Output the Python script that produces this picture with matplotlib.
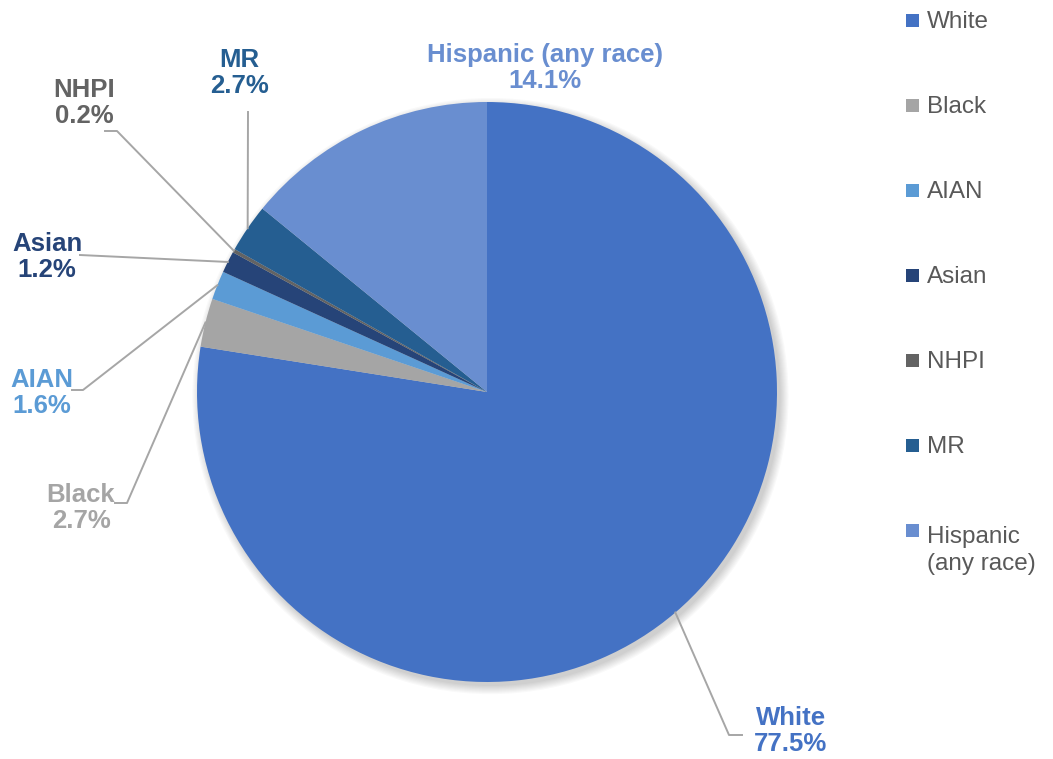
import matplotlib
matplotlib.use("Agg")
import matplotlib.pyplot as plt
from matplotlib.patches import Circle, Rectangle
import numpy as np

categories = ["White", "Black", "AIAN", "Asian", "NHPI", "MR", "Hispanic (any race)"]
values = [77.5, 2.7, 1.6, 1.2, 0.2, 2.7, 14.1]
colors = ["#4472C4", "#A5A5A5", "#5B9BD5", "#264478", "#636363", "#255E91", "#698ED0"]
legend_labels = ["White", "Black", "AIAN", "Asian", "NHPI", "MR", "Hispanic\n(any race)"]
label_texts = ["White", "Black", "AIAN", "Asian", "NHPI", "MR", "Hispanic (any race)"]

plt.rcParams['font.family'] = ['Liberation Sans', 'DejaVu Sans']

W, H = 1053, 759
fig = plt.figure(figsize=(W / 100, H / 100), dpi=100)
cx, cy, R = 487, 392, 290
ax = fig.add_axes([(cx - R) / W, (H - cy - R) / H, 2 * R / W, 2 * R / H])
ax.set_xlim(-1, 1)
ax.set_ylim(-1, 1)
ax.axis("off")

def px(x, y):
    return ((x - cx) / R, (cy - y) / R)

# soft shadow
for k in range(8):
    ax.add_patch(Circle((0.012, -0.014), 1.0 + 0.004 * k, color="black",
                        alpha=0.025, lw=0, zorder=0, clip_on=False))

wedges, _ = ax.pie(values, colors=colors, startangle=90, counterclock=False,
                   radius=1, wedgeprops=dict(linewidth=0), frame=False)
ax.set_xlim(-1, 1)
ax.set_ylim(-1, 1)

# label layout (pixel positions) : text center, leader path after edge point
label_pos = {
    "White": (791, 731),
    "Black": (81, 508),
    "AIAN": (42, 393),
    "Asian": (47, 257),
    "NHPI": (84, 103),
    "MR": (239, 73),
    "Hispanic (any race)": (545, 68),
}
leader_path = {
    "White": [(729, 735), (742, 735)],
    "Black": [(127, 503), (115, 503)],
    "AIAN": [(83, 390), (72, 390)],
    "Asian": [(80, 255)],
    "NHPI": [(117, 131), (105, 131)],
    "MR": [(248, 112)],
    "Hispanic (any race)": None,
}

for w, cat, val, col, txt in zip(wedges, categories, values, colors, label_texts):
    ang = np.deg2rad((w.theta1 + w.theta2) / 2)
    ex, ey = np.cos(ang), np.sin(ang)
    path = leader_path[cat]
    if path:
        xs = [ex] + [px(*p)[0] for p in path]
        ys = [ey] + [px(*p)[1] for p in path]
        ax.plot(xs, ys, color="#A6A6A6", lw=1.4, clip_on=False, zorder=3)
    tx, ty = px(*label_pos[cat])
    ax.text(tx, ty, f"{txt}\n{val:.1f}%", ha="center", va="center",
            fontsize=18.5, fontweight="bold", color=col, linespacing=1.08)

# legend
ys = [20, 105, 190, 275, 360, 445, 530]
line_px = 32
for lab, col, y in zip(legend_labels, colors, ys):
    fig.patches.append(Rectangle((906 / W, 1 - (y + 7) / H), 13 / W, 13 / H,
                                 transform=fig.transFigure, color=col, lw=0))
    nl = lab.count("\n")
    fig.text(927 / W, 1 - (y + 8 + nl * line_px) / H, lab, ha="left", va="baseline",
             fontsize=17.5, color="#595959", linespacing=1.3)

fig.savefig("out.png", dpi=100)
